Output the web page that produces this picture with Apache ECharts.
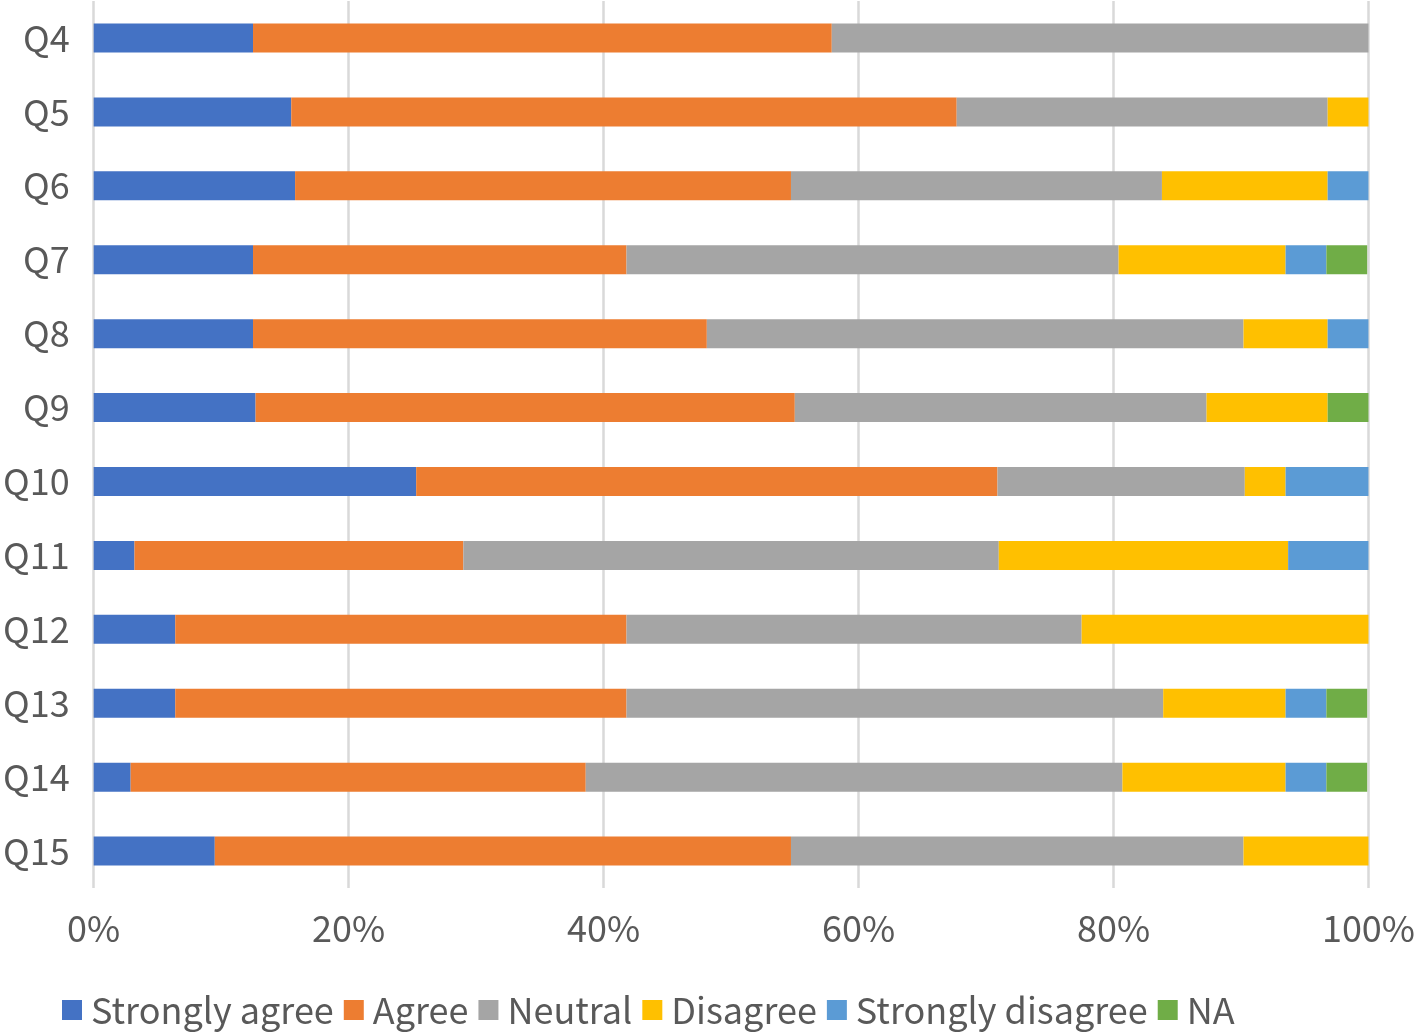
<!DOCTYPE html>
<html>
<head>
<meta charset="utf-8">
<script src="https://cdn.jsdelivr.net/npm/echarts@6/dist/echarts.min.js"></script>
<style>
  html, body { margin: 0; padding: 0; background: #ffffff; }
  #chart { width: 1418px; height: 1033px; }
</style>
</head>
<body>
<div id="chart"></div>
<script>
const categories = ['Q4', 'Q5', 'Q6', 'Q7', 'Q8', 'Q9', 'Q10', 'Q11', 'Q12', 'Q13', 'Q14', 'Q15'];
const xTicks = [0, 20, 40, 60, 80, 100];
const stronglyAgree    = [12.5, 15.5, 15.8, 12.5, 12.5, 12.7, 25.3, 3.2, 6.4, 6.4, 2.9, 9.5];
const agree            = [45.4, 52.2, 38.9, 29.3, 35.6, 42.3, 45.6, 25.8, 35.4, 35.4, 35.7, 45.2];
const neutral          = [42.1, 29.1, 29.1, 38.6, 42.1, 32.3, 19.4, 42.0, 35.7, 42.1, 42.1, 35.5];
const disagree         = [0, 3.2, 13.0, 13.1, 6.6, 9.5, 3.2, 22.7, 22.5, 9.6, 12.8, 9.8];
const stronglyDisagree = [0, 0, 3.2, 3.2, 3.2, 0, 6.6, 6.3, 0, 3.2, 3.2, 0];
const na               = [0, 0, 0, 3.2, 0, 3.2, 0, 0, 0, 3.2, 3.2, 0];

const seriesNames = ['Strongly agree', 'Agree', 'Neutral', 'Disagree', 'Strongly disagree', 'NA'];
const seriesData = [stronglyAgree, agree, neutral, disagree, stronglyDisagree, na];
const colors = ['#4472C4', '#ED7D31', '#A5A5A5', '#FFC000', '#5B9BD5', '#70AD47'];

const FONT = 'Noto Sans CJK SC';
const TEXT_COLOR = '#595959';

const chart = echarts.init(document.getElementById('chart'), null, { renderer: 'canvas' });
chart.setOption({
  animation: false,
  color: colors,
  grid: { left: 92, right: 46, top: 1, bottom: 145, containLabel: false },
  legend: {
    data: seriesNames,
    left: 62,
    top: 988,
    padding: 0,
    itemWidth: 20,
    itemHeight: 20,
    itemGap: 10,
    icon: 'rect',
    textStyle: { fontFamily: FONT, fontSize: 36, lineHeight: 44, color: TEXT_COLOR, padding: [0, 0, 0, 4] }
  },
  xAxis: {
    type: 'value',
    min: 0,
    max: 100,
    interval: 20,
    axisLine: { show: false },
    axisTick: { show: false },
    axisLabel: {
      formatter: function (v) { return xTicks.indexOf(v) >= 0 ? v + '%' : ''; },
      fontFamily: FONT,
      fontSize: 36,
      color: TEXT_COLOR,
      margin: 22
    },
    splitLine: { show: true, lineStyle: { color: '#D9D9D9', width: 2.5 } }
  },
  yAxis: {
    type: 'category',
    data: categories,
    inverse: true,
    axisLine: { show: false },
    axisTick: { show: false },
    axisLabel: { fontFamily: FONT, fontSize: 36, color: TEXT_COLOR, margin: 24 }
  },
  series: seriesNames.map(function (name, i) {
    return {
      name: name,
      type: 'bar',
      stack: 'total',
      barWidth: 29,
      data: seriesData[i],
      itemStyle: { color: colors[i] }
    };
  })
});
</script>
</body>
</html>
